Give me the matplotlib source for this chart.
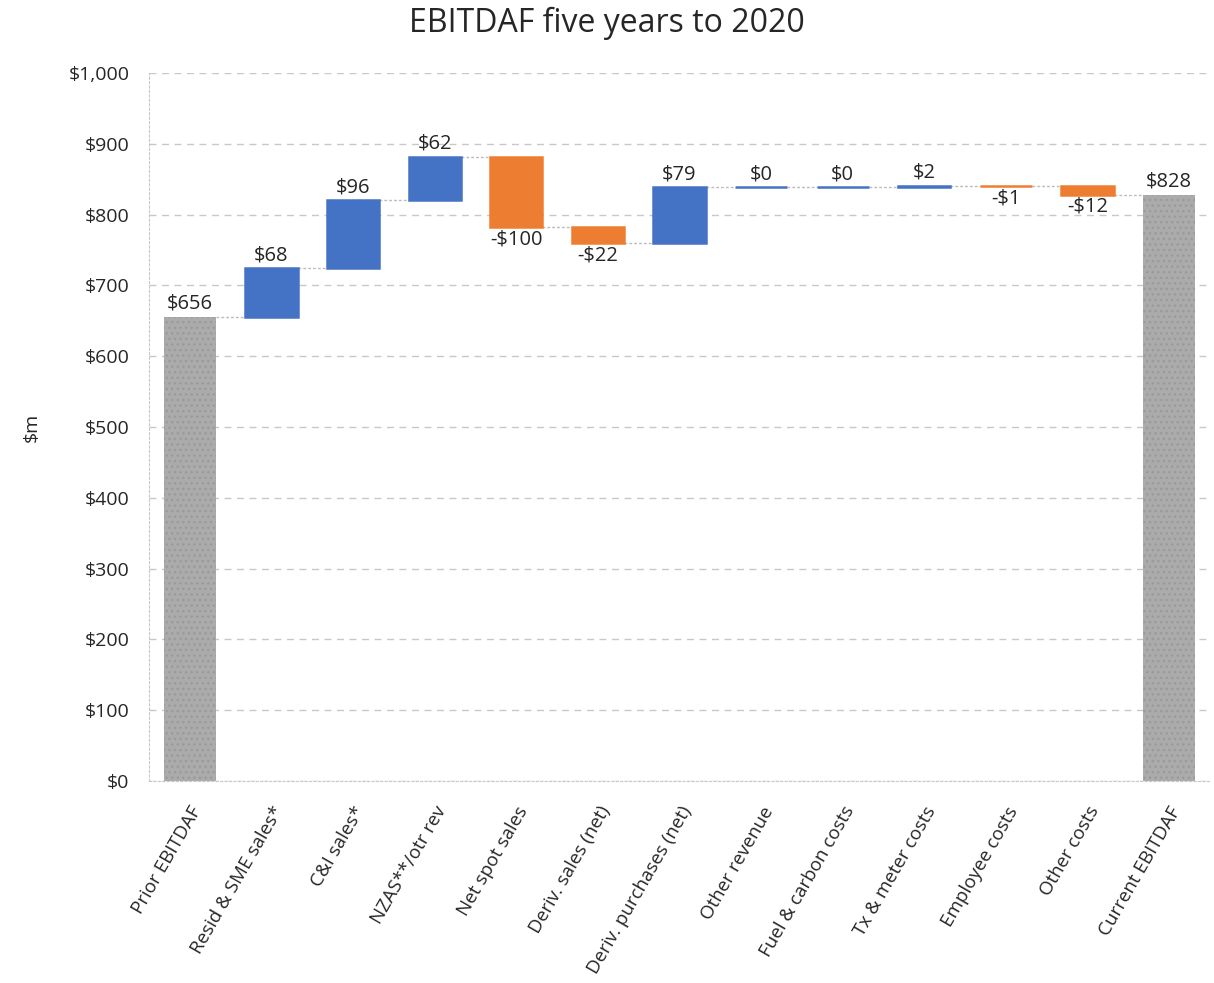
import matplotlib.pyplot as plt
import numpy as np

plt.rcParams['font.family'] = ['Open Sans', 'DejaVu Sans']

# datos del gráfico
categorias = ["Prior EBITDAF", "Resid & SME sales*", "C&I sales*", "NZAS**/otr rev",
              "Net spot sales", "Deriv. sales (net)", "Deriv. purchases (net)",
              "Other revenue", "Fuel & carbon costs", "Tx & meter costs",
              "Employee costs", "Other costs", "Current EBITDAF"]
valores = [656, 68, 96, 62, -100, -22, 79, 0, 0, 2, -1, -12, 828]
es_total = [True] + [False] * 11 + [True]
etiquetas = ["$656", "$68", "$96", "$62", "-$100", "-$22", "$79", "$0", "$0",
             "$2", "-$1", "-$12", "$828"]
ticks_y = [0, 100, 200, 300, 400, 500, 600, 700, 800, 900, 1000]

AZUL = '#4472c4'
NARANJA = '#ed7d31'
GRIS = '#ababab'
TEXTO = '#262626'

fig = plt.figure(figsize=(12.14, 9.83), dpi=100)
ax = fig.add_axes([0.1227, 0.2055, 0.874, 0.7202])

x = np.arange(len(categorias))
ancho = 0.64

# calculamos bases y niveles acumulados
bases = []
niveles = []
acum = 0
for v, t in zip(valores, es_total):
    if t:
        bases.append(0)
        acum = v
    else:
        bases.append(acum if v >= 0 else acum + v)
        acum = acum + v
    niveles.append(acum)

for i, (v, t) in enumerate(zip(valores, es_total)):
    if t:
        ax.bar(x[i], v, width=ancho, bottom=0, color=GRIS, edgecolor='#9a9a9a',
               hatch='...', linewidth=0, zorder=3)
        ax.text(x[i], v + 4, etiquetas[i], ha='center', va='bottom',
                fontsize=14.5, color=TEXTO, zorder=5)
    else:
        col = AZUL if v >= 0 else NARANJA
        ax.bar(x[i], abs(v), width=ancho, bottom=bases[i], color=col,
               edgecolor=col, linewidth=1.8, zorder=3)
        if v >= 0:
            ax.text(x[i], bases[i] + abs(v) + 4, etiquetas[i], ha='center',
                    va='bottom', fontsize=14.5, color=TEXTO, zorder=5)
        else:
            ax.text(x[i], bases[i] - 3, etiquetas[i], ha='center', va='top',
                    fontsize=14.5, color=TEXTO, zorder=5)

# líneas de conexión entre barras
for i in range(len(valores) - 1):
    ax.plot([x[i] + ancho / 2, x[i + 1] - ancho / 2], [niveles[i], niveles[i]],
            color='#bcbcbc', linestyle=(0, (2, 1.5)), linewidth=1.0, zorder=2)

ax.set_xlim(-0.5, len(categorias) - 0.5)
ax.set_ylim(0, 1000)
ax.set_yticks(ticks_y)
ax.set_yticklabels([f"${t:,}" for t in ticks_y], fontsize=14, color=TEXTO)
ax.set_xticks(x)
ax.set_xticklabels(categorias, rotation=60, ha='right', rotation_mode='anchor',
                   fontsize=13.5, color=TEXTO)
ax.tick_params(axis='y', length=0, pad=14)
ax.tick_params(axis='x', length=0, pad=16)
ax.grid(axis='y', color='#c8c8c8', linestyle=(0, (5, 4)), linewidth=1.0, zorder=0)

for lado in ['top', 'right']:
    ax.spines[lado].set_visible(False)
ax.spines['left'].set_color('#c8c8c8')
ax.spines['left'].set_linestyle((0, (2, 2)))
ax.spines['bottom'].set_color('#c8c8c8')
ax.spines['bottom'].set_linestyle((0, (2, 2)))

ax.set_ylabel("$m", fontsize=14, color=TEXTO, labelpad=20)
fig.suptitle("EBITDAF five years to 2020", fontsize=23, color=TEXTO, y=0.993)

fig.savefig("out.png", dpi=100)
